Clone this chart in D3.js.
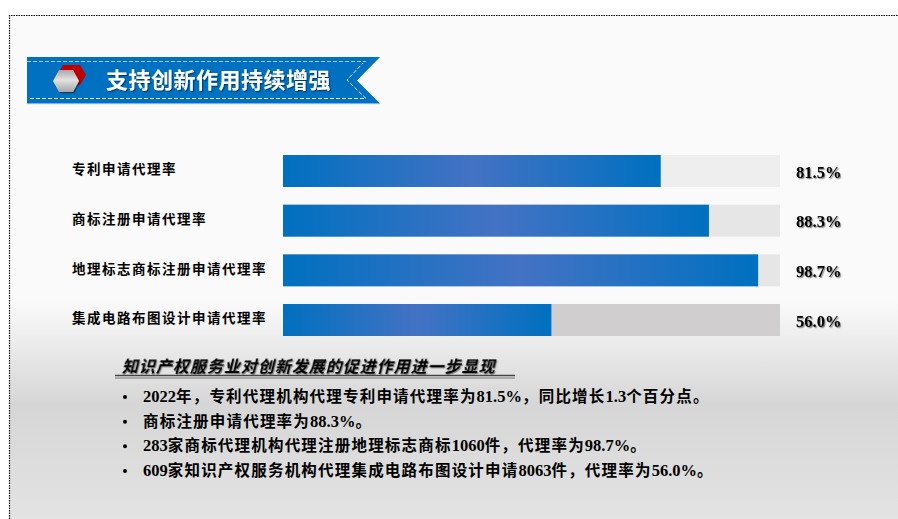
<!DOCTYPE html>
<html>
<head>
<meta charset="utf-8">
<script src="https://cdn.jsdelivr.net/npm/d3@7"></script>
<style>
  html, body { margin: 0; padding: 0; background: #fff; overflow: hidden; }
  svg { display: block; }
  text { font-family: "Noto Sans CJK SC", serif; font-weight: 700; fill: #000; }
  .latin { font-family: "Liberation Serif", serif; }
</style>
</head>
<body>
<svg id="canvas" width="898" height="519"></svg>
<script>
const titleText = '支持创新作用持续增强'
const categories = ['专利申请代理率', '商标注册申请代理率', '地理标志商标注册申请代理率', '集成电路布图设计申请代理率']
const valueLabels = ['81.5%', '88.3%', '98.7%', '56.0%']
// filled share of each track, the bars are not to scale with their labels
const barLengths = [76.0, 85.7, 95.6, 54.0]
const trackColors = ['#eeeeee', '#e6e6e6', '#e6e6e6', '#d0cece']
const subTitle = '知识产权服务业对创新发展的促进作用进一步显现'
const bullets = [
  '2022年，专利代理机构代理专利申请代理率为81.5%，同比增长1.3个百分点。',
  '商标注册申请代理率为88.3%。',
  '283家商标代理机构代理注册地理标志商标1060件，代理率为98.7%。',
  '609家知识产权服务机构代理集成电路布图设计申请8063件，代理率为56.0%。'
]

const svg = d3.select('#canvas')
const defs = svg.append('defs')

const addGradient = (id, stops, vertical) => {
  const g = defs.append('linearGradient').attr('id', id)
    .attr('x1', 0).attr('y1', 0).attr('x2', vertical ? 0 : 1).attr('y2', vertical ? 1 : 0)
  stops.forEach(s => g.append('stop').attr('offset', s[0]).attr('stop-color', s[1]))
}
addGradient('page', [[0, '#fafafa'], [0.58, '#fafafa'], [0.78, '#d6d6d6'], [1, '#e3e3e3']], true)
addGradient('bar', [[0, '#0070c0'], [0.5, '#4472c4'], [1, '#0070c0']])
addGradient('hex', [[0, '#a8a8a8'], [0.45, '#e2e2e2'], [1, '#a6a6a6']], true)

const shadow = defs.append('filter').attr('id', 'shadow')
  .attr('x', '-10%').attr('y', '-20%').attr('width', '125%').attr('height', '150%')
shadow.append('feDropShadow').attr('dx', 1.2).attr('dy', 1.2).attr('stdDeviation', 0.6)
  .attr('flood-color', '#000').attr('flood-opacity', 0.45)

// page background, the gradient is measured on the whole window height
svg.append('rect').attr('x', 10).attr('y', 0).attr('width', 888).attr('height', 519).attr('fill', 'url(#page)')
svg.append('rect').attr('x', 0).attr('y', 0).attr('width', 898).attr('height', 15).attr('fill', '#fff')
svg.append('path').attr('d', 'M9.5,519V15.5H898')
  .attr('fill', 'none').attr('stroke', '#000').attr('stroke-width', 1.2).attr('stroke-dasharray', '1.5 1')

// title ribbon
const ribbon = svg.append('g')
ribbon.append('path').attr('d', 'M27,57H380L357,80.5L380,103.5H27Z').attr('fill', '#0070c0')
ribbon.append('path').attr('d', 'M27,103.7H380').attr('stroke', '#7fb4e0').attr('stroke-width', 0.8)
ribbon.append('path').attr('d', 'M27,61.5H366').attr('fill', 'none')
  .attr('stroke', '#a9cbe6').attr('stroke-width', 1).attr('stroke-dasharray', '4 2')
ribbon.append('path').attr('d', 'M30,98.5H366L347,80L363,63').attr('fill', 'none')
  .attr('stroke', '#f2e6c4').attr('stroke-width', 1).attr('stroke-dasharray', '4 2')
ribbon.append('path').attr('d', 'M63,65H80L86,75L80,85H63L57,75Z').attr('fill', '#c00000')
ribbon.append('path').attr('d', 'M53,81L59,70H73L79,81L73,92H59Z').attr('fill', 'url(#hex)')
  .attr('filter', 'url(#shadow)')
ribbon.append('text').attr('x', 106).attr('y', 87.5).text(titleText)
  .style('font-size', '22px').style('letter-spacing', '0.5px').style('fill', '#fff')
  .attr('filter', 'url(#shadow)')

// bars
const x = d3.scaleLinear().domain([0, 100]).range([283, 780])
const y = d3.scaleBand().domain(categories).range([155, 336]).paddingInner(0.356)

const rows = svg.selectAll('.row').data(categories).enter().append('g').classed('row', true)
rows.append('rect').attr('x', x(0)).attr('y', d => y(d))
  .attr('width', x(100) - x(0)).attr('height', y.bandwidth())
  .attr('fill', (d, i) => trackColors[i])
rows.append('rect').attr('x', x(0)).attr('y', d => y(d))
  .attr('width', (d, i) => x(barLengths[i]) - x(0)).attr('height', y.bandwidth())
  .attr('fill', 'url(#bar)')
rows.append('text').attr('x', 72).attr('y', d => y(d) + y.bandwidth() / 2 - 0.5)
  .attr('dominant-baseline', 'middle').text(d => d)
  .style('font-size', '13.5px').style('letter-spacing', '1.5px')
rows.append('text').classed('latin', true).attr('x', 796).attr('y', d => y(d) + y.bandwidth() / 2 + 3)
  .attr('dominant-baseline', 'middle').text((d, i) => valueLabels[i])
  .style('font-size', '16.5px').attr('filter', 'url(#shadow)')

// lower text block
svg.append('text').attr('transform', 'translate(122,372) skewX(-14)').text(subTitle)
  .style('font-size', '16px').style('letter-spacing', '1px')
  .attr('filter', 'url(#shadow)')
svg.append('path').attr('d', 'M115,375.5H515').attr('stroke', '#444').attr('stroke-width', 1.6)
svg.append('path').attr('d', 'M115,378H515').attr('stroke', '#777').attr('stroke-width', 1.2)

const lineY = d3.scalePoint().domain(bullets).range([397, 471])
const items = svg.selectAll('.item').data(bullets).enter().append('g').classed('item', true)
items.append('circle').attr('cx', 125).attr('cy', d => lineY(d)).attr('r', 2).attr('fill', '#000')
const itemText = items.append('text').attr('x', 143).attr('y', d => lineY(d) + 1)
  .attr('dominant-baseline', 'middle')
  .style('font-size', '15.5px').style('letter-spacing', '1.2px')
// digits and CJK need different widths, so each run gets its own tspan
itemText.selectAll('tspan').data(d => d.match(/[\x00-\x7f]+|[^\x00-\x7f]+/g)).enter().append('tspan')
  .text(d => d)
  .classed('latin', d => /^[\x00-\x7f]/.test(d))
  .style('font-size', d => /^[\x00-\x7f]/.test(d) ? '16.5px' : null)
  .style('letter-spacing', d => /^[\x00-\x7f]/.test(d) ? '0px' : null)
</script>
</body>
</html>
